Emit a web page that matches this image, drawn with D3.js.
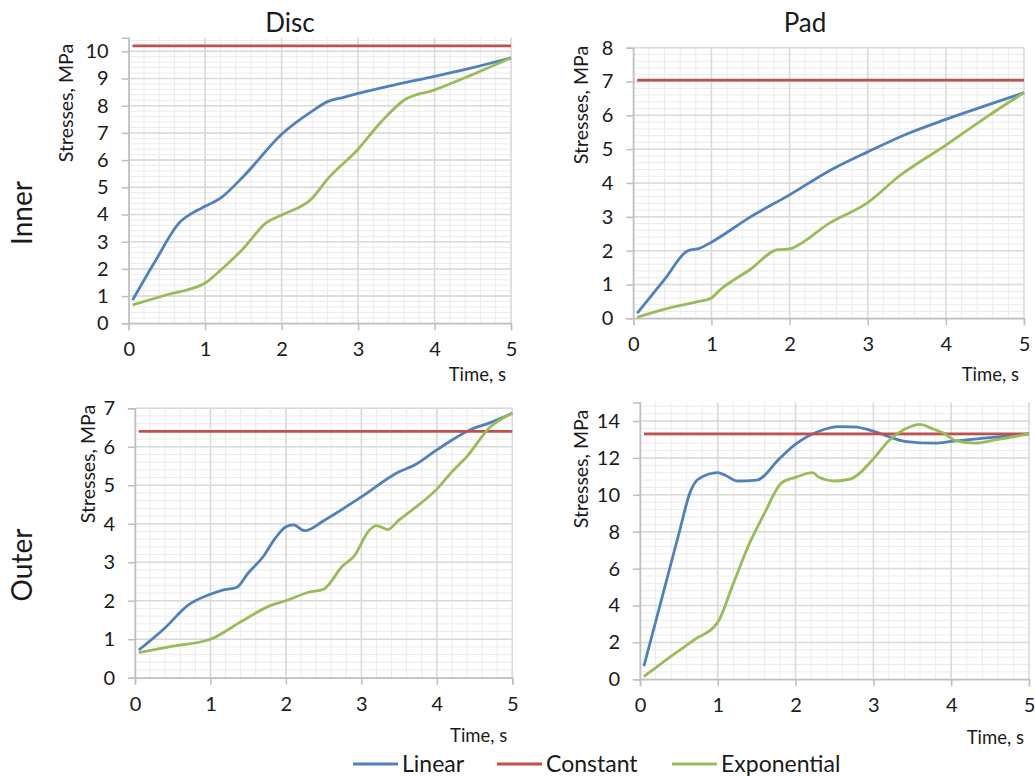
<!DOCTYPE html>
<html>
<head>
<meta charset="utf-8">
<script src="https://cdn.jsdelivr.net/npm/d3@7"></script>
<style>
  body { margin: 0; background: #fff; }
  text { font-family: Lato, "Open Sans", sans-serif; fill: #1a1a1a; }
</style>
</head>
<body>
<script>
//time axis ticks shared by all four charts
var timeTicks = [0, 1, 2, 3, 4, 5];

//series names and colours for the legend
var seriesNames = ["Linear", "Constant", "Exponential"];
var seriesColors = ["#4f81bd", "#c0504d", "#9bbb59"];

//Disc, inner surface  [time s, stress MPa]
var discInnerLinear = [[0.05,0.85],[0.35,2.3],[0.68,3.75],[0.8,4.0],[1.0,4.3],[1.2,4.6],[1.5,5.4],[2.0,6.95],[2.4,7.8],[2.6,8.15],[2.8,8.3],[3.0,8.45],[3.5,8.78],[4.0,9.08],[4.5,9.4],[5.0,9.76]];
var discInnerConstant = [[0.05,10.2],[5.0,10.2]];
var discInnerExp = [[0.05,0.68],[0.5,1.05],[1.0,1.48],[1.2,1.95],[1.5,2.75],[1.8,3.7],[2.0,3.98],[2.4,4.6],[2.6,5.3],[3.0,6.4],[3.3,7.4],[3.6,8.2],[4.0,8.58],[4.5,9.15],[5.0,9.76]];
var discInnerTicks = [0,1,2,3,4,5,6,7,8,9,10];

//Pad, inner surface
var padInnerLinear = [[0.05,0.15],[0.4,1.15],[0.7,2.0],[0.85,2.07],[1.0,2.25],[1.5,3.0],[2.0,3.65],[2.5,4.35],[3.0,4.92],[3.5,5.45],[4.0,5.88],[4.5,6.28],[5.0,6.67]];
var padInnerConstant = [[0.05,7.04],[5.0,7.04]];
var padInnerExp = [[0.05,0.03],[0.5,0.33],[0.8,0.48],[1.0,0.6],[1.1,0.82],[1.5,1.45],[1.85,2.03],[2.0,2.05],[2.1,2.15],[2.5,2.8],[3.0,3.42],[3.4,4.2],[4.0,5.12],[4.5,5.92],[5.0,6.67]];
var padInnerTicks = [0,1,2,3,4,5,6,7,8];

//Disc, outer surface
var discOuterLinear = [[0.05,0.72],[0.4,1.3],[0.7,1.88],[1.0,2.17],[1.15,2.27],[1.35,2.35],[1.5,2.72],[1.7,3.15],[1.85,3.6],[2.0,3.92],[2.1,3.97],[2.25,3.82],[2.5,4.08],[3.0,4.7],[3.5,5.35],[3.7,5.52],[4.0,5.92],[4.45,6.45],[4.7,6.62],[5.0,6.87]];
var discOuterConstant = [[0.05,6.4],[5.0,6.4]];
var discOuterExp = [[0.05,0.65],[0.5,0.82],[1.0,1.0],[1.4,1.45],[1.8,1.88],[2.0,2.0],[2.3,2.22],[2.5,2.3],[2.75,2.9],[2.9,3.15],[3.1,3.82],[3.2,3.95],[3.35,3.85],[3.5,4.1],[3.7,4.4],[4.0,4.9],[4.2,5.35],[4.4,5.75],[4.7,6.5],[5.0,6.87]];
var discOuterTicks = [0,1,2,3,4,5,6,7];

//Pad, outer surface
var padOuterLinear = [[0.05,0.72],[0.2,3.1],[0.35,5.5],[0.5,7.9],[0.65,10.2],[0.75,10.85],[1.0,11.2],[1.1,11.05],[1.25,10.75],[1.5,10.8],[1.8,12.0],[2.0,12.75],[2.3,13.45],[2.55,13.7],[2.75,13.68],[3.0,13.45],[3.2,13.15],[3.4,12.9],[3.8,12.8],[4.0,12.9],[4.5,13.1],[5.0,13.3]];
var padOuterConstant = [[0.05,13.3],[5.0,13.3]];
var padOuterExp = [[0.05,0.15],[0.35,1.1],[0.7,2.15],[1.0,3.1],[1.2,5.2],[1.4,7.3],[1.6,9.0],[1.82,10.65],[2.0,10.95],[2.22,11.2],[2.3,10.95],[2.5,10.75],[2.7,10.85],[3.0,11.95],[3.2,12.95],[3.4,13.55],[3.6,13.82],[3.75,13.6],[3.9,13.35],[4.05,12.95],[4.3,12.8],[4.6,13.0],[5.0,13.3]];
var padOuterTicks = [0,2,4,6,8,10,12,14];

window.onload = function(){

    var w = 1035, h = 776;

    var svg = d3.select("body")
        .append("svg")
        .attr("width", w)
        .attr("height", h);

    //panel boxes: left, right, bottom (y=0), value max, pixel top
    var panels = [
        {left: 128.7, right: 511,  bottom: 323.3, top: 37.7,  max: 10.5, ticks: discInnerTicks, minor: 0.2,
         series: [discInnerLinear, discInnerConstant, discInnerExp], ylabX: 73, ylabY: 103, timeY: 381},
        {left: 633.3, right: 1024, bottom: 318.3, top: 47.7,  max: 8,    ticks: padInnerTicks, minor: 0.2,
         series: [padInnerLinear, padInnerConstant, padInnerExp], ylabX: 588, ylabY: 105, timeY: 381},
        {left: 135,   right: 512.3, bottom: 677.7, top: 408.3, max: 7,   ticks: discOuterTicks, minor: 0.2,
         series: [discOuterLinear, discOuterConstant, discOuterExp], ylabX: 95, ylabY: 464, timeY: 742},
        {left: 640,   right: 1029, bottom: 679.3, top: 402.6, max: 15,   ticks: padOuterTicks, minor: 0.4,
         series: [padOuterLinear, padOuterConstant, padOuterExp], ylabX: 588, ylabY: 469, timeY: 744}
    ];

    panels.forEach(function(p){

        var x = d3.scaleLinear().domain([0, 5]).range([p.left, p.right]);
        var y = d3.scaleLinear().domain([0, p.max]).range([p.bottom, p.top]);

        var g = svg.append("g").attr("class", "panel");

        //minor grid
        g.append("g").selectAll("line")
            .data(d3.range(0, 5.001, 0.2))
            .enter().append("line")
            .attr("x1", function(d){ return x(d); })
            .attr("x2", function(d){ return x(d); })
            .attr("y1", p.bottom).attr("y2", p.top)
            .style("stroke", "#ebebeb").style("stroke-width", 1);

        g.append("g").selectAll("line")
            .data(d3.range(0, p.max + 0.001, p.minor))
            .enter().append("line")
            .attr("x1", p.left).attr("x2", p.right)
            .attr("y1", function(d){ return y(d); })
            .attr("y2", function(d){ return y(d); })
            .style("stroke", "#ebebeb").style("stroke-width", 1);

        //major grid
        g.append("g").selectAll("line")
            .data(timeTicks)
            .enter().append("line")
            .attr("x1", function(d){ return x(d); })
            .attr("x2", function(d){ return x(d); })
            .attr("y1", p.bottom).attr("y2", p.top)
            .style("stroke", "#d9d9d9").style("stroke-width", 1.5);

        g.append("g").selectAll("line")
            .data(p.ticks)
            .enter().append("line")
            .attr("x1", p.left).attr("x2", p.right)
            .attr("y1", function(d){ return y(d); })
            .attr("y2", function(d){ return y(d); })
            .style("stroke", "#d9d9d9").style("stroke-width", 1.5);

        //axes
        var xAxis = g.append("g")
            .attr("transform", "translate(0," + p.bottom + ")")
            .call(d3.axisBottom(x).tickValues(timeTicks).tickSize(7).tickPadding(12).tickFormat(d3.format("d")));

        var yAxis = g.append("g")
            .attr("transform", "translate(" + p.left + ",0)")
            .call(d3.axisLeft(y).tickValues(p.ticks).tickSize(7).tickPadding(13).tickFormat(d3.format("d")));

        [xAxis, yAxis].forEach(function(a){
            a.select(".domain").style("stroke", "#bfbfbf").style("stroke-width", 1.5);
            a.selectAll(".tick line").style("stroke", "#bfbfbf").style("stroke-width", 1.5);
            a.selectAll(".tick text")
                .style("font-family", "Lato, sans-serif")
                .style("font-size", "20px")
                .style("fill", "#1a1a1a");
        });

        //series lines
        var line = d3.line()
            .x(function(d){ return x(d[0]); })
            .y(function(d){ return y(d[1]); })
            .curve(d3.curveMonotoneX);

        g.selectAll(".series")
            .data(p.series)
            .enter().append("path")
            .attr("class", "series")
            .attr("d", line)
            .style("fill", "none")
            .style("stroke", function(d, i){ return seriesColors[i]; })
            .style("stroke-width", 2.8)
            .style("stroke-linejoin", "round");

        //axis titles
        g.append("text")
            .attr("transform", "translate(" + p.ylabX + "," + p.ylabY + ") rotate(-90)")
            .attr("text-anchor", "middle")
            .style("font-size", "19.5px")
            .text("Stresses, MPa");

        g.append("text")
            .attr("x", p.right - 5)
            .attr("y", p.timeY)
            .attr("text-anchor", "end")
            .style("font-size", "18.5px")
            .text("Time, s");
    });

    //column titles
    svg.append("text").attr("x", 290).attr("y", 32).attr("text-anchor", "middle")
        .style("font-size", "26px").text("Disc");
    svg.append("text").attr("x", 805).attr("y", 32).attr("text-anchor", "middle")
        .style("font-size", "26px").text("Pad");

    //row titles
    svg.append("text").attr("transform", "translate(32,213) rotate(-90)").attr("text-anchor", "middle")
        .style("font-size", "28px").text("Inner");
    svg.append("text").attr("transform", "translate(32,565) rotate(-90)").attr("text-anchor", "middle")
        .style("font-size", "28px").text("Outer");

    //legend
    var legendX = [353, 497, 672];
    var legend = svg.selectAll(".legend")
        .data(seriesNames)
        .enter().append("g")
        .attr("class", "legend")
        .attr("transform", function(d, i){ return "translate(" + legendX[i] + ",764)"; });

    legend.append("line")
        .attr("x1", 0).attr("x2", 45)
        .style("stroke", function(d, i){ return seriesColors[i]; })
        .style("stroke-width", 2.8);

    legend.append("text")
        .attr("x", 49).attr("y", 8)
        .style("font-size", "23px")
        .text(function(d){ return d; });
};
</script>
</body>
</html>
